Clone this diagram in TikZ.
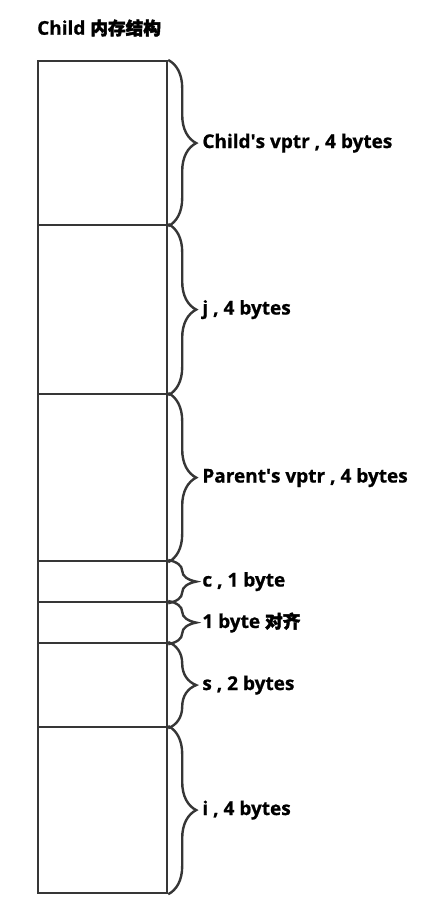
\documentclass[tikz,border=0pt]{standalone}
\usepackage{fontspec}
\setmainfont{Open Sans}[BoldFeatures = {FakeBold = 0.8}]
\newfontfamily\cjk{Noto Sans CJK SC}[FakeBold = 2.5, Scale = 0.93]
\usetikzlibrary{decorations.pathreplacing,positioning}

\definecolor{edgegray}{HTML}{363636}

\tikzset{
	seg/.style = {draw = edgegray, line width = 2.2pt, minimum width = 129pt,
		inner sep = 0pt, anchor = north west},
	brc/.style = {draw = edgegray, line width = 2.4pt, decorate,
		decoration = {brace, amplitude = 28pt, aspect = 0.5}},
	lbl/.style = {right, xshift = 30pt, font = \bfseries\fontsize{19}{22}\selectfont,
		inner sep = 3pt}
}

\begin{document}
\begin{tikzpicture}[x = 1pt, y = -1pt]
\useasboundingbox (0,0) rectangle (439,902);

\node [anchor = west, font = \bfseries\fontsize{19}{22}\selectfont, inner sep = 0pt]
	(title) at (37,28) {Child {\cjk 内存结构}};

% memory blocks, top to bottom: name / top / height / label
\foreach \n/\t/\h/\txt in {
	cvptr/60/164/{Child\textquotesingle s vptr , 4 bytes},
	j/224/169/{j , 4 bytes},
	pvptr/393/167/{Parent\textquotesingle s vptr , 4 bytes},
	c/560/41/{c , 1 byte},
	pad/601/41/{1 byte {\cjk 对齐}},
	s/642/84/{s , 2 bytes},
	i/726/166/{i , 4 bytes}}
{
	\node [seg, minimum height = \h pt] (\n) at (37,\t) {};
	\draw [brc] (\n.north east) -- (\n.south east)
		node [lbl, midway] (\n-lbl) {\txt};
}
\end{tikzpicture}
\end{document}
